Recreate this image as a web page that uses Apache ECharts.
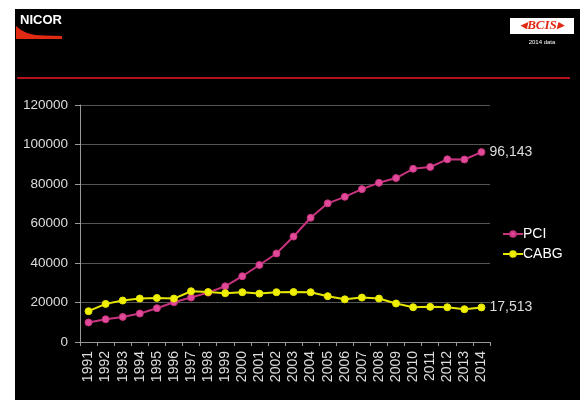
<!DOCTYPE html>
<html><head><meta charset="utf-8">
<script src="https://cdn.jsdelivr.net/npm/echarts@6/dist/echarts.min.js"></script>
<style>html,body{margin:0;padding:0;background:#fff}#c{width:585px;height:400px}</style>
</head><body><div id="c"></div>
<script>
const years = ['1991','1992','1993','1994','1995','1996','1997','1998','1999','2000','2001','2002','2003','2004','2005','2006','2007','2008','2009','2010','2011','2012','2013','2014'];
const pci = [9900,11500,12700,14400,17100,20100,22500,25000,28200,33300,39000,44800,53400,62900,70200,73500,77400,80600,83000,87700,88600,92500,92400,96143];
const cabg = [15600,19300,21000,22000,22300,22000,25700,25300,24700,25200,24500,25200,25300,25200,23200,21600,22500,22000,19500,17600,17800,17600,16600,17513];
const yTicks = {min:0, max:120000, interval:20000};

const chart = echarts.init(document.getElementById('c'));
const fmt = v => v.toLocaleString('en-US');
chart.setOption({
  backgroundColor:'#fff',
  animation:false,
  textStyle:{fontFamily:'Liberation Sans, Arial, sans-serif'},
  graphic:[
    {type:'rect', shape:{x:15,y:9,width:565,height:391}, style:{fill:'#000'}, z:-10},
    {type:'polygon', shape:{points:[[16,26],[21,30],[27,33],[35,35],[45,35.5],[62,36],[62,39],[16,39]]}, style:{fill:'#e02a14'}},
    {type:'text', x:20, y:20, style:{text:'NICOR', fill:'#fff', font:'bold 13px Liberation Sans, Arial', verticalAlign:'middle'}},
    {type:'rect', shape:{x:510,y:18,width:64,height:16}, style:{fill:'#fff'}},
    {type:'text', x:542, y:26, style:{text:'◂BCIS▸', fill:'#e02a14', font:'italic bold 13px Liberation Serif, serif', align:'center', verticalAlign:'middle'}},
    {type:'text', x:542, y:42, style:{text:'2014 data', fill:'#fff', font:'6px Liberation Sans, Arial', align:'center', verticalAlign:'middle'}},
    {type:'rect', shape:{x:17,y:77,width:553,height:2}, style:{fill:'#b3121c'}}
  ],
  grid:{left:80, right:95, top:105, bottom:58, containLabel:false},
  legend:{
    orient:'vertical', left:497, top:222, itemGap:6, itemWidth:20, itemHeight:7,
    textStyle:{color:'#fff', fontSize:14, padding:[0,0,0,-5]},
    data:['PCI','CABG']
  },
  xAxis:{
    type:'category', data:years, boundaryGap:true,
    axisLine:{lineStyle:{color:'#999', width:1}},
    axisTick:{show:true, length:4, lineStyle:{color:'#999'}},
    axisLabel:{rotate:90, color:'#ddd', fontSize:14, margin:9, interval:0}
  },
  yAxis:{
    type:'value', min:yTicks.min, max:yTicks.max, interval:yTicks.interval,
    axisLine:{show:true, lineStyle:{color:'#999'}},
    axisTick:{show:true, length:5, lineStyle:{color:'#999'}},
    axisLabel:{color:'#ddd', fontSize:13.5, margin:12, formatter:v=>String(v)},
    splitLine:{lineStyle:{color:'#555', width:1}}
  },
  series:[
    {name:'PCI', type:'line', data:pci, symbol:'circle', symbolSize:7,
     lineStyle:{color:'#c8337f', width:2}, itemStyle:{color:'#e04a98', borderColor:'#c8337f', borderWidth:1},
     endLabel:{show:true, color:'#ddd', fontSize:14, distance:8, formatter:p=>fmt(p.value)}},
    {name:'CABG', type:'line', data:cabg, symbol:'circle', symbolSize:7,
     lineStyle:{color:'#e6e600', width:2}, itemStyle:{color:'#f0f000', borderColor:'#e6e600', borderWidth:1},
     endLabel:{show:true, color:'#ddd', fontSize:14, distance:8, formatter:p=>fmt(p.value)}}
  ]
});
</script></body></html>
